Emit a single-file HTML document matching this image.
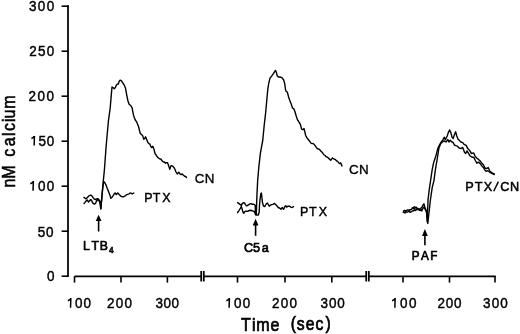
<!DOCTYPE html>
<html><head><meta charset="utf-8"><style>
html,body{margin:0;padding:0;background:#fff;}
svg{display:block;filter:grayscale(1);}
text{font-family:"Liberation Sans",sans-serif;fill:#000;stroke:#000;}
.ax{stroke:#000;stroke-width:1.75;fill:none;}
.cv{stroke:#000;stroke-width:1.4;fill:none;stroke-linejoin:round;stroke-linecap:round;}
.ar{stroke:#000;stroke-width:1.6;fill:none;}
.tk{stroke:#000;stroke-width:1.6;fill:none;}
.ah{fill:#000;}
</style></head><body>
<svg width="520" height="334" viewBox="0 0 520 334">
<path d="M68 5.2V276.8" class="ax"/>
<path d="M61.6 6.2H68.5" class="tk"/>
<path d="M61.6 51.2H68.5" class="tk"/>
<path d="M61.6 96.2H68.5" class="tk"/>
<path d="M61.6 141.2H68.5" class="tk"/>
<path d="M61.6 186.2H68.5" class="tk"/>
<path d="M61.6 231.2H68.5" class="tk"/>
<path d="M61.6 276.2H68.5" class="tk"/>
<path d="M74.5 276.3H201.2M203.8 276.3H366.2M368.8 276.3H495.8" class="ax"/>
<path d="M74.5 276.3V282.6" class="tk"/>
<path d="M121 276.3V282.6" class="tk"/>
<path d="M167.4 276.3V282.6" class="tk"/>
<path d="M237.5 276.3V282.6" class="tk"/>
<path d="M285 276.3V282.6" class="tk"/>
<path d="M331.8 276.3V282.6" class="tk"/>
<path d="M403 276.3V282.6" class="tk"/>
<path d="M449.5 276.3V282.6" class="tk"/>
<path d="M495 276.3V282.6" class="tk"/>
<path d="M201.2 271V281.5" class="ax"/>
<path d="M203.8 271V281.5" class="ax"/>
<path d="M366.2 271V281.5" class="ax"/>
<path d="M368.8 271V281.5" class="ax"/>
<polyline points="84.0,197.4 85.0,198.1 86.1,198.8 87.2,197.7 88.3,196.6 89.4,195.6 90.8,195.2 91.9,195.9 92.9,197.4 94.0,198.8 95.5,199.5 96.9,198.8 98.0,198.8 99.1,199.9 100.1,201.7 100.7,208.7 101.6,200.4 102.5,189.6 103.4,180.0 104.4,170.0 106.0,148.0 107.2,134.3 108.4,121.2 110.2,108.0 111.5,92.4 112.0,87.0 113.0,87.6 114.2,88.8 115.4,87.6 116.3,85.2 117.5,84.0 118.4,84.0 119.0,81.6 120.1,80.1 121.3,80.6 123.1,83.4 124.3,85.2 125.5,88.2 126.7,94.8 127.9,100.7 129.1,104.3 130.7,105.5 132.1,107.9 133.5,115.2 134.4,117.7 135.3,120.0 136.6,121.8 137.5,124.1 138.4,126.0 139.3,129.8 140.2,133.2 141.4,134.4 142.6,135.6 143.8,139.2 144.7,138.4 145.6,136.8 146.8,139.8 148.0,142.8 148.9,143.6 149.8,144.0 150.7,146.1 151.6,147.5 152.8,146.3 154.0,149.3 155.2,154.1 156.1,154.9 157.0,156.5 157.9,157.4 158.8,158.3 159.8,159.0 160.8,159.0 161.7,160.3 162.6,161.4 163.5,162.0 164.4,162.0 165.6,163.2 166.5,162.6 167.4,162.6 168.6,165.6 169.8,169.2 171.0,165.6 171.9,165.9 172.8,166.2 173.7,167.2 174.6,168.6 175.8,171.6 177.3,174.0 178.8,172.2 180.0,174.0 181.1,174.6 182.3,174.0 183.2,174.9 184.1,175.7 184.9,176.4 185.7,176.5 186.5,177.5" class="cv"/>
<polyline points="84.0,203.5 85.0,202.4 86.1,201.0 87.2,199.9 87.9,201.0 88.6,202.0 89.7,200.6 90.8,199.5 91.9,201.0 92.9,203.1 94.4,204.2 95.5,203.5 96.5,201.0 97.6,199.5 98.7,200.6 99.8,202.0 100.5,205.3 100.9,208.9 101.6,200.0 102.8,187.2 103.7,181.4 105.0,183.0 106.2,185.4 107.3,188.5 108.5,191.5 110.0,195.4 110.8,198.3 112.3,197.0 113.8,194.6 114.6,193.4 115.4,193.0 116.2,194.6 117.7,193.0 119.2,194.6 120.8,196.2 122.3,196.9 123.4,196.8 124.6,196.2 125.8,195.6 126.9,194.6 128.1,194.2 129.2,193.8 130.0,193.1 130.8,193.0 132.3,193.8 133.8,193.0" class="cv"/>
<polyline points="237.6,202.6 239.0,203.6 240.3,204.6 241.3,205.6 242.2,203.6 243.6,202.6 244.5,202.9 245.5,204.6 246.5,205.9 247.5,205.5 248.8,204.6 250.1,203.9 251.1,203.6 252.1,204.2 253.4,204.2 254.4,204.6 255.2,205.2 255.5,214.6 256.3,214.8 256.6,205.0 256.9,196.0 257.7,180.0 258.9,166.3 260.4,153.2 262.8,140.0 264.1,126.3 265.6,113.2 266.8,100.0 267.9,88.3 268.8,83.0 270.0,78.2 271.8,75.8 273.6,73.4 275.4,70.4 276.3,72.2 277.2,75.8 278.4,77.0 280.1,77.0 281.9,77.6 283.7,80.0 284.7,83.6 285.5,89.5 286.1,91.3 287.3,92.0 288.5,96.7 289.7,100.3 290.2,101.6 291.4,104.6 292.6,108.2 293.8,108.8 295.0,111.8 296.2,116.0 297.4,119.6 298.3,121.0 299.2,122.5 300.4,124.3 301.6,129.1 302.8,129.7 304.0,128.5 305.2,133.3 305.6,135.2 306.8,137.6 307.7,138.7 308.6,140.0 309.5,140.9 310.4,142.4 311.3,143.3 312.2,143.6 313.1,143.5 314.0,144.2 314.9,145.4 315.8,146.6 317.0,148.4 317.9,149.0 318.8,149.0 319.7,149.6 320.6,150.8 321.5,151.7 322.4,152.6 323.3,153.9 324.2,155.0 325.1,155.5 326.0,156.7 326.9,156.9 327.7,157.3 328.6,158.4 329.5,159.1 330.7,160.3 331.6,159.1 332.5,157.9 333.4,158.7 334.3,159.1 335.5,159.7 336.7,160.9 337.5,161.4 338.4,162.4 339.6,163.6 340.8,163.0 342.0,166.0" class="cv"/>
<polyline points="237.6,212.5 238.6,211.1 239.6,209.5 240.6,207.9 241.3,206.5 241.9,208.2 242.6,210.8 243.2,212.6 243.9,213.2 244.5,211.8 245.5,211.3 246.9,211.3 248.2,211.0 249.5,210.5 250.8,210.2 252.1,210.8 253.4,211.1 254.4,211.8 255.1,213.1 255.6,214.8 258.3,215.0 259.2,212.0 259.5,205.0 260.2,198.0 260.9,193.4 261.4,192.9 262.0,198.6 262.5,202.8 263.5,206.0 264.7,206.6 266.5,203.5 267.4,203.0 269.2,206.2 271.0,204.8 272.8,204.4 274.6,203.5 276.4,205.3 278.2,207.5 279.5,208.0 280.9,209.3 282.2,207.5 283.6,209.3 284.9,206.6 285.8,205.7 286.7,207.1 288.1,206.2 289.4,206.2 290.8,207.1 292.1,207.5 293.5,206.6" class="cv"/>
<polyline points="403.4,211.3 404.2,210.4 405.0,210.9 405.9,210.8 406.7,210.4 407.5,209.9 408.4,210.0 409.2,210.1 410.0,209.6 410.9,209.7 411.7,209.2 412.5,207.7 413.4,208.4 414.1,206.7 414.8,208.5 415.5,207.2 416.1,207.2 416.8,208.4 417.6,208.1 418.4,209.2 419.2,210.3 420.1,208.8 421.0,208.1 421.8,207.6 423.0,205.0 423.9,203.8 424.7,206.8 425.5,208.8 426.4,211.0 427.3,222.0 428.0,200.0 429.2,190.0 430.6,180.4 432.2,169.6 433.4,163.6 434.5,160.0 435.8,156.3 437.6,149.1 439.4,145.0 441.2,142.0 443.0,139.6 444.2,137.2 445.4,139.6 447.2,136.0 448.4,132.4 449.6,130.0 450.8,132.4 452.0,137.2 453.2,138.4 454.4,134.8 455.6,131.8 456.8,136.0 458.0,139.0 459.7,140.8 460.9,142.0 462.7,142.6 464.0,144.3 466.2,145.4 467.8,148.6 469.4,150.2 471.5,153.5 473.7,152.9 474.8,155.6 476.4,157.8 478.5,159.4 480.2,161.0 481.8,163.2 483.4,164.8 485.0,168.0 486.6,168.6 488.2,167.5 489.9,171.3 492.0,172.9 494.2,174.0" class="cv"/>
<polyline points="403.4,212.4 404.2,212.3 405.0,213.1 405.9,211.6 406.7,212.0 407.5,212.1 408.4,211.5 409.2,210.8 410.0,212.4 410.9,212.0 411.7,211.5 412.5,210.9 413.4,211.0 414.2,209.7 415.0,210.6 415.6,210.4 416.2,208.9 416.8,209.8 417.6,209.4 418.4,209.4 419.2,208.9 420.1,210.6 421.0,209.7 421.8,211.0 422.6,209.0 423.5,207.3 424.3,208.0 425.1,209.0 425.8,210.8 426.4,211.0 427.8,223.5 430.4,200.0 432.2,187.6 434.0,180.4 435.2,170.8 436.4,163.6 437.4,158.0 438.8,148.6 440.6,143.8 442.4,142.0 444.2,140.8 446.0,142.0 447.8,139.6 449.0,142.0 450.2,140.2 452.0,142.0 453.2,142.6 454.4,145.0 455.6,145.6 457.4,146.2 459.1,148.0 460.9,148.6 462.7,147.4 464.5,152.2 465.7,153.4 466.9,151.0 468.1,152.7 469.9,155.7 471.7,157.0 474.0,157.5 475.3,160.5 476.9,163.2 478.5,162.1 480.2,163.7 481.8,165.9 483.4,167.5 485.0,170.2 486.1,171.3 487.7,170.7 489.9,172.3 492.0,173.4 494.2,174.5" class="cv"/>
<path d="M98.6 220.2V231.5" class="ar"/>
<path d="M98.6 214.8L95.69999999999999 221.0H101.5Z" class="ah"/>
<path d="M255.6 224.8V235.8" class="ar"/>
<path d="M255.6 218.8L252.7 225.60000000000002H258.5Z" class="ah"/>
<path d="M424.9 235.2V245.2" class="ar"/>
<path d="M424.9 229L422.0 236.0H427.79999999999995Z" class="ah"/>
<text transform="matrix(0.93 0 0 1 0 11.01)" x="31.09 40.71 50.32" font-size="14.50" stroke-width="0.45">300</text>
<text transform="matrix(0.93 0 0 1 0 56.10)" x="31.45 40.83 50.22" font-size="14.50" stroke-width="0.45">250</text>
<text transform="matrix(0.93 0 0 1 0 100.76)" x="30.70 40.40 50.11" font-size="14.50" stroke-width="0.45">200</text>
<path d="M34.45 135.90L34.15 145.60M34.30 136.50Q33.30 137.90 31.40 138.50" stroke="#000" stroke-width="1.5" fill="none"/>
<text transform="matrix(0.93 0 0 1 0 145.60)" x="41.35 50.32" font-size="14.50" stroke-width="0.45">50</text>
<path d="M33.35 181.10L33.05 190.80M33.20 181.70Q32.20 183.10 30.30 183.70" stroke="#000" stroke-width="1.5" fill="none"/>
<text transform="matrix(0.93 0 0 1 0 190.80)" x="40.75 50.32" font-size="14.50" stroke-width="0.45">00</text>
<text transform="matrix(0.93 0 0 1 0 236.71)" x="40.52 49.46" font-size="14.50" stroke-width="0.45">50</text>
<text transform="matrix(0.93 0 0 1 0 281.10)" x="50.54" font-size="14.50" stroke-width="0.45">0</text>
<path d="M70.85 298.10L70.55 307.80M70.70 298.70Q69.70 300.10 67.80 300.70" stroke="#000" stroke-width="1.5" fill="none"/>
<text transform="matrix(0.93 0 0 1 0 307.53)" x="80.70 89.89" font-size="14.50" stroke-width="0.45">00</text>
<text transform="matrix(0.93 0 0 1 0 307.53)" x="115.10 124.52 133.93" font-size="14.50" stroke-width="0.45">200</text>
<text transform="matrix(0.93 0 0 1 0 307.81)" x="167.16 175.81 184.46" font-size="14.50" stroke-width="0.45">300</text>
<path d="M229.40 298.10L229.10 307.80M229.25 298.70Q228.25 300.10 226.35 300.70" stroke="#000" stroke-width="1.5" fill="none"/>
<text transform="matrix(0.93 0 0 1 0 307.80)" x="251.53 261.08" font-size="14.50" stroke-width="0.45">00</text>
<text transform="matrix(0.93 0 0 1 0 307.53)" x="292.52 301.93 311.35" font-size="14.50" stroke-width="0.45">200</text>
<text transform="matrix(0.93 0 0 1 0 307.80)" x="344.58 353.64 362.69" font-size="14.50" stroke-width="0.45">300</text>
<path d="M395.15 298.10L394.85 307.80M395.00 298.70Q394.00 300.10 392.10 300.70" stroke="#000" stroke-width="1.5" fill="none"/>
<text transform="matrix(0.93 0 0 1 0 307.51)" x="430.03 439.84" font-size="14.50" stroke-width="0.45">00</text>
<text transform="matrix(0.93 0 0 1 0 308.18)" x="470.48 479.35 488.23" font-size="14.50" stroke-width="0.45">200</text>
<text transform="matrix(0.93 0 0 1 0 307.81)" x="519.31 528.64 537.96" font-size="14.50" stroke-width="0.45">300</text>
<text transform="matrix(0.9 0 0 1 0 330.50)" x="267.75 280.07 284.86 300.62" font-size="17.80" stroke-width="0.75">Time</text>
<text transform="matrix(0.88 0 0 1 0 330.30)" font-size="17.80" stroke-width="0.75"><tspan x="330.29" dy="-1.5">(</tspan><tspan x="337.15 347.46 358.48" dy="1.5">sec</tspan><tspan x="369.82" dy="-1.5">)</tspan></text>
<text transform="matrix(0.92 0 0 1 0 249.90)" x="90.24 99.40 108.39" font-size="13.30" stroke-width="0.7">LTB</text>
<text transform="matrix(0.87 0 0 1 108.94 252.89)" font-size="9.40" textLength="9.51" lengthAdjust="spacing" stroke-width="0.45" font-weight="bold">4</text>
<text transform="matrix(0.95 0 0 1 0 252.40)" x="256.73 266.24 275.47" font-size="13.30" stroke-width="0.7">C5a</text>
<text transform="matrix(0.88 0 0 1 0 260.00)" x="468.01 478.39 488.80" font-size="13.30" stroke-width="0.7">PAF</text>
<text transform="matrix(1.0 0 0 1 0 182.90)" x="194.79 204.68" font-size="13.40" stroke-width="0.35">CN</text>
<text transform="matrix(0.93 0 0 1 0 201.80)" x="155.15 164.23 174.44" font-size="13.40" stroke-width="0.45">PTX</text>
<text transform="matrix(1.0 0 0 1 0 174.30)" x="348.99 359.08" font-size="13.40" stroke-width="0.35">CN</text>
<text transform="matrix(0.93 0 0 1 0 215.90)" x="322.57 332.40 342.72" font-size="13.40" stroke-width="0.45">PTX</text>
<text transform="matrix(0.95 0 0 1 0 190.90)" x="489.68 499.63 509.32 526.52 536.83" font-size="13.40" stroke-width="0.5">PTXCN</text>
<text transform="matrix(0 -0.9 1 0 15.00 0.7)" x="-207.57 -197.96 -173.48 -161.59 -150.48 -144.93 -134.80 -130.77 -120.13" font-size="17.80" stroke-width="0.55">nMcalcium</text>
<path d="M493.7 191.2L498.4 181.6" stroke="#000" stroke-width="1.45"/>
</svg>
</body></html>
